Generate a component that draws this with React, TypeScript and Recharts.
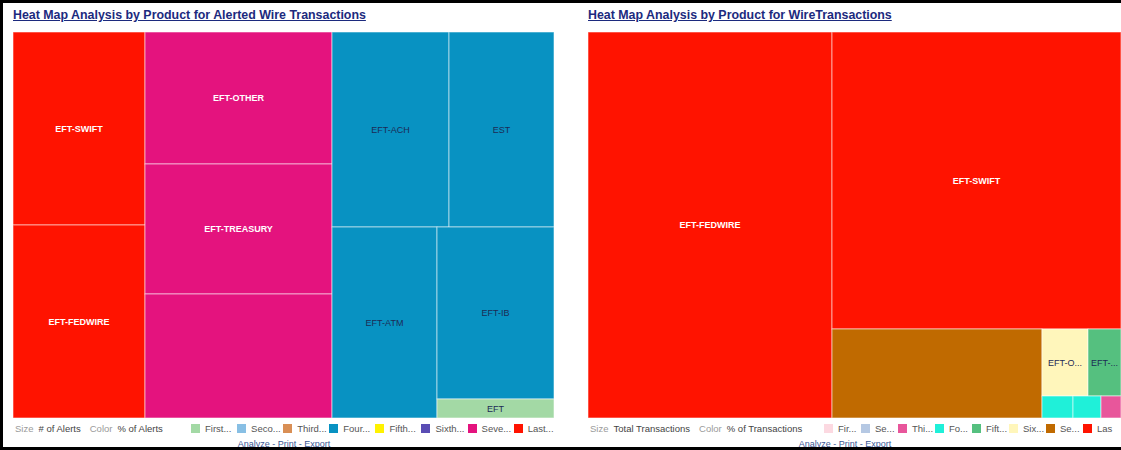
import React from 'react';
import { Treemap } from 'recharts';

// ---------- Left chart: alerted wire transactions ----------
const alertNames = ['EFT-SWIFT', 'EFT-FEDWIRE', 'EFT-OTHER', 'EFT-TREASURY', '', 'EFT-ACH', 'EST', 'EFT-ATM', 'EFT-IB', 'EFT'];
const alertCounts = [255, 255, 247, 243, 232, 228, 205, 201, 201, 22];
const alertBands = [7, 7, 6, 6, 6, 3, 3, 3, 3, 0];
// products grouped by colour band, then by block
const alertGroups: any[] = [[0, 1], [2, 3, 4], [[5, 6], 7, [8, 9]]];
const alertBandNames = ['First...', 'Seco...', 'Third...', 'Four...', 'Fifth...', 'Sixth...', 'Seve...', 'Last...'];
const alertBandColors = ['#a3d9a5', '#88bfe4', '#d98f55', '#0892c2', '#fff200', '#5a4db4', '#e4137e', '#ff1300'];
const alertBandInk = ['#1d2b55', '#1d2b55', '#ffffff', '#1d2b55', '#1d2b55', '#ffffff', '#ffffff', '#ffffff'];

// ---------- Right chart: all wire transactions ----------
const txnNames = ['EFT-FEDWIRE', 'EFT-SWIFT', '', 'EFT-O...', 'EFT-...', '', '', ''];
const txnTotals = [9418, 8583, 1869, 308, 221, 68, 62, 44];
const txnBands = [7, 7, 6, 5, 4, 3, 3, 2];
const txnGroups: any[] = [0, [1, [2, [[3, 4], [5, 6, 7]]]]];
const txnBandNames = ['Fir...', 'Se...', 'Thi...', 'Fo...', 'Fift...', 'Six...', 'Se...', 'Las'];
const txnBandColors = ['#fcd9e1', '#b5c8e3', '#e8569b', '#1ff0d9', '#55c07f', '#fff6bb', '#c06a00', '#ff1300'];
const txnBandInk = ['#1d2b55', '#1d2b55', '#ffffff', '#1d2b55', '#1d2b55', '#1d2b55', '#ffffff', '#ffffff'];

const FONT = '"Liberation Sans", Arial, sans-serif';

function build(g: any, names: string[], values: number[], bands: number[], colors: string[], inks: string[]): any {
  if (typeof g === 'number') {
    const b = bands[g];
    return { name: names[g], value: values[g], color: colors[b], ink: inks[b] };
  }
  return { name: '', children: g.map((c: any) => build(c, names, values, bands, colors, inks)) };
}

const renderCell = (props: any) => {
  const { x, y, width, height, children, color, ink, name } = props;
  if ((children && children.length) || !color) return <g />;
  const white = ink === '#ffffff';
  return (
    <g>
      <rect x={x} y={y} width={width} height={height} fill={color} stroke="#ffffff" strokeOpacity={0.55} strokeWidth={1} />
      {name ? (
        <text
          x={x + width / 2}
          y={y + height / 2}
          textAnchor="middle"
          dominantBaseline="central"
          fill={ink}
          fontSize={9}
          fontWeight={white ? 700 : 400}
          fontFamily={FONT}
        >
          {name}
        </text>
      ) : null}
    </g>
  );
};

type PanelProps = {
  left: number;
  width: number;
  title: string;
  data: any[];
  sizeLabel: string;
  colorLabel: string;
  bandNames: string[];
  bandColors: string[];
  legendStart: number;
  step: number;
  linkCenter: number;
};

const Panel = (p: PanelProps) => (
  <>
    <div
      style={{
        position: 'absolute',
        left: p.left,
        top: 8,
        font: `bold 12.4px ${FONT}`,
        color: '#1c2a7e',
        textDecoration: 'underline',
        whiteSpace: 'nowrap',
      }}
    >
      {p.title}
    </div>
    <div style={{ position: 'absolute', left: p.left, top: 32, width: p.width, height: 386 }}>
      <Treemap
        width={p.width}
        height={386}
        data={p.data}
        dataKey="value"
        nameKey="name"
        aspectRatio={0.5}
        isAnimationActive={false}
        content={renderCell as any}
      />
    </div>
    <div
      style={{
        position: 'absolute',
        left: p.left + 2,
        top: 422,
        height: 12,
        display: 'flex',
        alignItems: 'center',
        font: `9.5px ${FONT}`,
        whiteSpace: 'nowrap',
      }}
    >
      <span style={{ color: '#9a9a9a', marginRight: 5 }}>Size</span>
      <span style={{ color: '#444', marginRight: 9 }}>{p.sizeLabel}</span>
      <span style={{ color: '#9a9a9a', marginRight: 5 }}>Color</span>
      <span style={{ color: '#444' }}>{p.colorLabel}</span>
    </div>
    <div
      style={{
        position: 'absolute',
        left: p.legendStart,
        top: 422,
        height: 12,
        display: 'flex',
        alignItems: 'center',
        font: `9.5px ${FONT}`,
        whiteSpace: 'nowrap',
      }}
    >
      {p.bandNames.map((n, i) => (
        <span key={i} style={{ display: 'flex', alignItems: 'center', width: p.step, flex: 'none' }}>
          <span style={{ width: 9, height: 9, background: p.bandColors[i], marginRight: 5, flex: 'none' }} />
          <span style={{ color: '#555' }}>{n}</span>
        </span>
      ))}
    </div>
    <div
      style={{
        position: 'absolute',
        left: p.left,
        width: 2 * (p.linkCenter - p.left),
        top: 439,
        textAlign: 'center',
        font: `9px ${FONT}`,
        color: '#3a5896',
        whiteSpace: 'nowrap',
      }}
    >
      <span style={{ textDecoration: 'underline' }}>Analyze</span> - <span style={{ textDecoration: 'underline' }}>Print</span> -{' '}
      <span style={{ textDecoration: 'underline' }}>Export</span>
    </div>
  </>
);

export default function App() {
  const alertData = alertGroups.map((g) => build(g, alertNames, alertCounts, alertBands, alertBandColors, alertBandInk));
  const txnData = txnGroups.map((g) => build(g, txnNames, txnTotals, txnBands, txnBandColors, txnBandInk));
  return (
    <div
      style={{
        position: 'absolute',
        left: 0,
        top: 0,
        width: 1121,
        height: 450,
        overflow: 'hidden',
        background: '#ffffff',
        fontFamily: FONT,
      }}
    >
      <Panel
        left={13}
        width={541}
        title="Heat Map Analysis by Product for Alerted Wire Transactions"
        data={alertData}
        sizeLabel="# of Alerts"
        colorLabel="% of Alerts"
        bandNames={alertBandNames}
        bandColors={alertBandColors}
        legendStart={191}
        step={46.1}
        linkCenter={284}
      />
      <Panel
        left={588}
        width={533}
        title="Heat Map Analysis by Product for WireTransactions"
        data={txnData}
        sizeLabel="Total Transactions"
        colorLabel="% of Transactions"
        bandNames={txnBandNames}
        bandColors={txnBandColors}
        legendStart={824}
        step={37}
        linkCenter={845}
      />
      <div style={{ position: 'absolute', left: 0, top: 0, width: 1121, height: 3, background: '#000' }} />
      <div style={{ position: 'absolute', left: 0, top: 0, width: 3, height: 450, background: '#000' }} />
      <div style={{ position: 'absolute', left: 0, top: 447, width: 1121, height: 3, background: '#000' }} />
    </div>
  );
}
